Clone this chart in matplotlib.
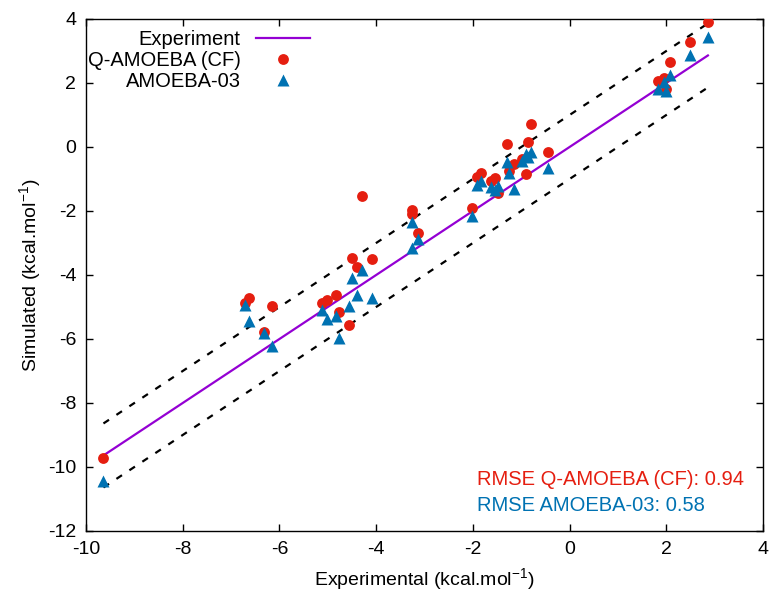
import numpy as np
import matplotlib
matplotlib.use("Agg")
import matplotlib.pyplot as plt

plt.rcParams['font.family'] = ['Liberation Sans', 'DejaVu Sans']
plt.rcParams['mathtext.default'] = 'regular'
plt.rcParams['axes.unicode_minus'] = False

# experimental vs simulated values (kcal/mol)
experimental = [-9.64, -6.71, -6.63, -6.32, -6.15, -5.11, -5.01, -4.84, -4.76, -4.56,
                -4.51, -4.40, -4.30, -4.09, -3.25, -3.25, -3.14, -2.01, -1.91, -1.83,
                -1.63, -1.54, -1.49, -1.29, -1.25, -1.16, -0.99, -0.90, -0.87, -0.80,
                -0.45, 1.82, 1.95, 1.99, 2.08, 2.50, 2.86]
q_amoeba = [-9.73, -4.89, -4.73, -5.77, -4.97, -4.89, -4.78, -4.63, -5.15, -5.56,
            -3.48, -3.76, -1.54, -3.50, -1.97, -2.11, -2.70, -1.92, -0.95, -0.80,
            -1.05, -0.98, -1.43, 0.08, -0.75, -0.53, -0.38, -0.84, 0.16, 0.72,
            -0.17, 2.06, 2.15, 1.80, 2.67, 3.28, 3.90]
amoeba03 = [-10.43, -4.94, -5.45, -5.80, -6.23, -5.11, -5.38, -5.28, -5.98, -4.96,
            -4.08, -4.63, -3.84, -4.73, -2.36, -3.15, -2.88, -2.17, -1.19, -1.05,
            -1.26, -1.34, -1.22, -0.48, -0.80, -1.32, -0.43, -0.22, -0.30, -0.15,
            -0.67, 1.80, 2.04, 1.75, 2.24, 2.86, 3.45]
rmse_q = 0.94
rmse_a = 0.58

purple = '#9400d3'
red = '#e51e10'
blue = '#0072b2'

exp = np.array(experimental)
xs = np.sort(exp)

fig = plt.figure(figsize=(7.73, 5.95), dpi=100)
ax = fig.add_axes([0.1113, 0.1076, 0.8758, 0.8605])

ax.plot(xs, xs, color=purple, lw=1.6, label='Experiment', zorder=2)
ax.plot(xs, xs + 1, color='black', lw=1.6, ls=(0, (3, 4)), zorder=2)
ax.plot(xs, xs - 1, color='black', lw=1.6, ls=(0, (3, 4)), zorder=2)
ax.plot(exp, q_amoeba, 'o', color=red, ms=7.8, mec='none', label='Q-AMOEBA (CF)', zorder=3)
ax.plot(exp, amoeba03, '^', color=blue, ms=8.3, mec='none', label='AMOEBA-03', zorder=4)

ax.set_xlim(-10, 4)
ax.set_ylim(-12, 4)
ax.set_xticks(np.arange(-10, 5, 2))
ax.set_yticks(np.arange(-12, 5, 2))
ax.tick_params(direction='in', top=True, right=True, length=5, width=1, labelsize=14, pad=7)
for s in ax.spines.values():
    s.set_linewidth(1)

ax.set_xlabel('Experimental (kcal.mol$^{-1}$)', fontsize=14, labelpad=6)
ax.set_ylabel('Simulated (kcal.mol$^{-1}$)', fontsize=14, labelpad=4)

ax.legend(loc='upper right', bbox_to_anchor=(310 / 773, 1 - 30 / 595), bbox_transform=fig.transFigure,
          frameon=False, markerfirst=False, fontsize=14.5, handlelength=2.7, handletextpad=0.75,
          labelspacing=0.1, borderpad=0, borderaxespad=0)

ax.text(-1.915, -10.38, f'RMSE Q-AMOEBA (CF): {rmse_q:.2f}', color=red, fontsize=14.5, va='center')
ax.text(-1.915, -11.2, f'RMSE AMOEBA-03: {rmse_a:.2f}', color=blue, fontsize=14.5, va='center')

fig.savefig('out.png', dpi=100)
